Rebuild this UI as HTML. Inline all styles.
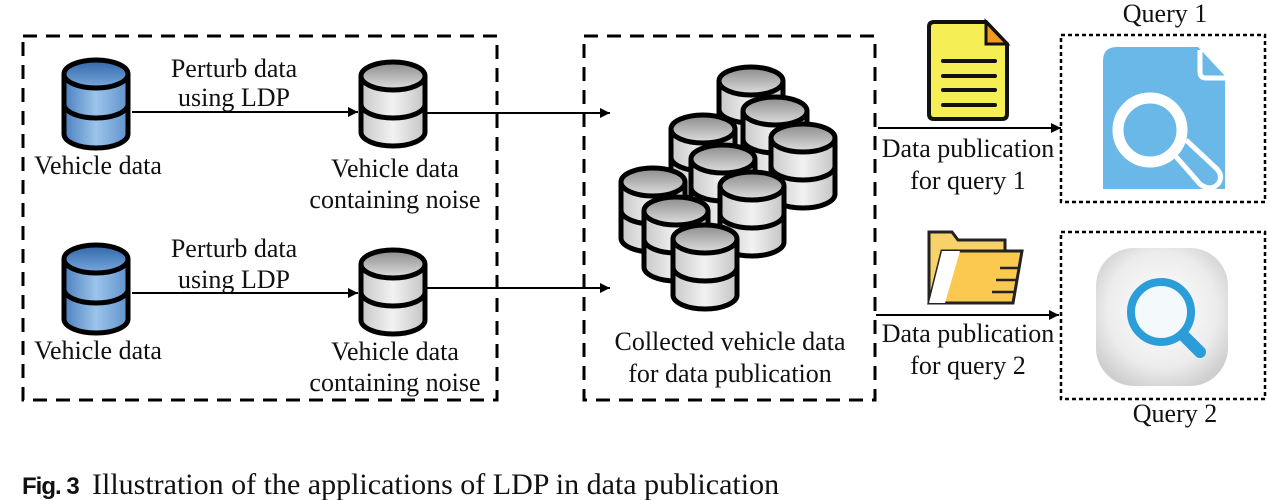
<!DOCTYPE html>
<html><head><meta charset="utf-8"><style>
html,body{margin:0;padding:0;background:#fff;}
svg{display:block;}
text{font-family:"Liberation Serif",serif;font-size:26px;fill:#111;}
</style></head><body>
<svg width="1267" height="500" viewBox="0 0 1267 500" xmlns="http://www.w3.org/2000/svg">
<defs>
<linearGradient id="bl" x1="0" x2="1"><stop offset="0" stop-color="#4a80c0"/><stop offset=".5" stop-color="#9cc4ea"/><stop offset="1" stop-color="#5f92cc"/></linearGradient>
<linearGradient id="blt" x1="0" y1="0" x2="0" y2="1"><stop offset="0" stop-color="#2f66aa"/><stop offset="1" stop-color="#7aa9dc"/></linearGradient>
<linearGradient id="gr" x1="0" x2="1"><stop offset="0" stop-color="#c8c8c8"/><stop offset=".5" stop-color="#f2f2f2"/><stop offset="1" stop-color="#c4c4c4"/></linearGradient>
<linearGradient id="grt" x1="0" y1="0" x2="0" y2="1"><stop offset="0" stop-color="#8a8a8a"/><stop offset="1" stop-color="#e0e0e0"/></linearGradient>
<radialGradient id="sq" cx=".5" cy=".45" r=".6"><stop offset="0" stop-color="#ffffff"/><stop offset=".7" stop-color="#ececec"/><stop offset="1" stop-color="#cfcfcf"/></radialGradient>
<g id="dbB"><path d="M0,14 L0,74 A32,14 0 0 0 64,74 L64,14" fill="url(#bl)" stroke="#000" stroke-width="5"/><path d="M0,44 A32,14 0 0 0 64,44" fill="none" stroke="#000" stroke-width="5"/><ellipse cx="32" cy="14" rx="32" ry="14" fill="url(#blt)" stroke="#000" stroke-width="5"/></g>
<g id="dbG"><path d="M0,14 L0,70 A32,14 0 0 0 64,70 L64,14" fill="url(#gr)" stroke="#000" stroke-width="5"/><path d="M0,42 A32,14 0 0 0 64,42" fill="none" stroke="#000" stroke-width="5"/><ellipse cx="32" cy="14" rx="32" ry="14" fill="url(#grt)" stroke="#000" stroke-width="5"/></g>
<marker id="ar" viewBox="0 0 10 10" refX="10" refY="5" markerWidth="10" markerHeight="10" markerUnits="userSpaceOnUse" orient="auto"><path d="M0,0 L10,5 L0,10 z" fill="#000"/></marker>
</defs>

<rect x="23" y="36" width="474" height="364" fill="none" stroke="#000" stroke-width="3" stroke-dasharray="14,9"/>
<rect x="584" y="36" width="291" height="364" fill="none" stroke="#000" stroke-width="3" stroke-dasharray="14,9"/>
<rect x="1061" y="35" width="204" height="167" fill="none" stroke="#000" stroke-width="2.5" stroke-dasharray="4,3"/>
<rect x="1061" y="232" width="204" height="167" fill="none" stroke="#000" stroke-width="2.5" stroke-dasharray="4,3"/>

<use href="#dbB" x="64" y="60"/>
<use href="#dbG" x="361" y="62"/>
<use href="#dbB" x="64" y="245"/>
<use href="#dbG" x="361" y="250"/>

<text x="98" y="174" text-anchor="middle">Vehicle data</text>
<text x="98" y="359" text-anchor="middle">Vehicle data</text>
<text x="234" y="77" text-anchor="middle">Perturb data</text>
<text x="234" y="106" text-anchor="middle">using LDP</text>
<text x="234" y="257" text-anchor="middle">Perturb data</text>
<text x="234" y="288" text-anchor="middle">using LDP</text>
<text x="395" y="177" text-anchor="middle">Vehicle data</text>
<text x="395" y="208" text-anchor="middle">containing noise</text>
<text x="395" y="360" text-anchor="middle">Vehicle data</text>
<text x="395" y="391" text-anchor="middle">containing noise</text>

<g stroke="#000" stroke-width="2" fill="none">
<line x1="132" y1="112" x2="358" y2="112" marker-end="url(#ar)"/>
<line x1="427" y1="113" x2="610" y2="113" marker-end="url(#ar)"/>
<line x1="132" y1="293" x2="358" y2="293" marker-end="url(#ar)"/>
<line x1="427" y1="288" x2="610" y2="288" marker-end="url(#ar)"/>
<line x1="878" y1="128" x2="1061" y2="128" marker-end="url(#ar)"/>
<line x1="876" y1="315" x2="1059" y2="315" marker-end="url(#ar)"/>
</g>

<use href="#dbG" x="719" y="67"/>
<use href="#dbG" x="743" y="97"/>
<use href="#dbG" x="671" y="115"/>
<use href="#dbG" x="771" y="124"/>
<use href="#dbG" x="691" y="145"/>
<use href="#dbG" x="621" y="168"/>
<use href="#dbG" x="720" y="172"/>
<use href="#dbG" x="644" y="197"/>
<use href="#dbG" x="673" y="225"/>

<text x="730" y="350" text-anchor="middle">Collected vehicle data</text>
<text x="730" y="382" text-anchor="middle">for data publication</text>

<path d="M934,22 L986,22 L1007,44 L1007,114 Q1007,119 1002,119 L934,119 Q929,119 929,114 L929,27 Q929,22 934,22 z" fill="#f5ee55" stroke="#111" stroke-width="4"/>
<path d="M986,22 L986,44 L1007,44 z" fill="#f39a1c" stroke="#111" stroke-width="3"/>
<g stroke="#111" stroke-width="4" stroke-linecap="round"><line x1="943" y1="61" x2="995" y2="61"/><line x1="943" y1="76" x2="995" y2="76"/><line x1="943" y1="90" x2="995" y2="90"/><line x1="943" y1="105" x2="995" y2="105"/></g>

<path d="M929,232 L952,232 L958,240 L1005,240 L1005,262 L929,302 z" fill="#f7d26a" stroke="#222" stroke-width="3"/>
<path d="M942,251 L1022,251 L1013,303 L929,303 z" fill="#fbc950" stroke="#222" stroke-width="3"/>
<path d="M942,251 L960,251 L945,303 L929,303 z" fill="#fff"/>
<g stroke="#222" stroke-width="2.5"><line x1="1000" y1="268" x2="1018" y2="268"/><line x1="996" y1="280" x2="1016" y2="280"/><line x1="992" y1="292" x2="1014" y2="292"/></g>

<text x="968" y="157" text-anchor="middle">Data publication</text>
<text x="968" y="189" text-anchor="middle">for query 1</text>
<text x="968" y="342" text-anchor="middle">Data publication</text>
<text x="968" y="374" text-anchor="middle">for query 2</text>

<text x="1165" y="22" text-anchor="middle">Query 1</text>
<text x="1175" y="422" text-anchor="middle">Query 2</text>

<path d="M1117,47 L1198,47 L1225,76 L1225,189 L1103,189 L1103,61 Q1103,47 1117,47 z" fill="#6ab8e8"/>
<path d="M1200,50 L1200,72 Q1200,78 1206,78 L1225,78" fill="none" stroke="#fff" stroke-width="5"/>
<path d="M1172,152 L1200,184 Q1210,192 1218,184 Q1224,176 1216,168 L1186,140" fill="#6ab8e8" stroke="#fff" stroke-width="5"/>
<circle cx="1150" cy="130" r="32" fill="#6ab8e8" stroke="#fff" stroke-width="11"/>

<rect x="1096" y="248" width="132" height="138" rx="38" fill="url(#sq)"/>
<line x1="1185" y1="337" x2="1200" y2="352" stroke="#2b9dd8" stroke-width="12" stroke-linecap="round"/>
<circle cx="1161" cy="312" r="30" fill="#f4f9fc" stroke="#2b9dd8" stroke-width="8"/>

<text x="22" y="494" style="font-family:'Liberation Sans',sans-serif;font-weight:bold;font-size:24px;letter-spacing:-1px;" fill="#333">Fig. 3</text>
<text x="92" y="494" style="font-size:30px;">Illustration of the applications of LDP in data publication</text>
</svg>
</body></html>
